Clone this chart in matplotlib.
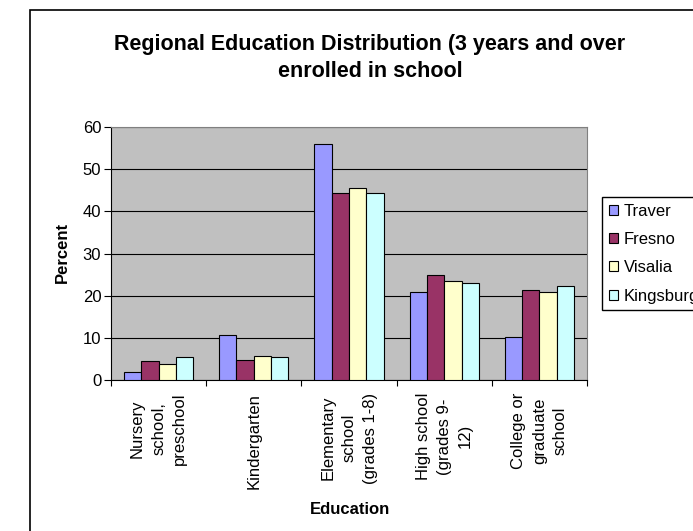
import matplotlib.pyplot as plt
from matplotlib.patches import Rectangle
import numpy as np

plt.rcParams['font.family'] = ['Liberation Sans', 'DejaVu Sans']

categories = ['Nursery\nschool,\npreschool', 'Kindergarten',
              'Elementary\nschool\n(grades 1-8)', 'High school\n(grades 9-\n12)',
              'College or\ngraduate\nschool']
traver = [1.8, 10.7, 56.0, 20.9, 10.2]
fresno = [4.4, 4.7, 44.3, 24.9, 21.3]
visalia = [3.8, 5.7, 45.5, 23.5, 20.9]
kingsburg = [5.4, 5.4, 44.3, 22.9, 22.3]

series = [('Traver', traver, '#9999FF'),
          ('Fresno', fresno, '#993366'),
          ('Visalia', visalia, '#FFFFCC'),
          ('Kingsburg', kingsburg, '#CCFFFF')]

fig = plt.figure(figsize=(6.93, 5.31), dpi=100)
# outer chart border (runs off the right and bottom edges)
fig.patches.append(Rectangle((30 / 693, -0.1), 1.2, 1 - 10 / 531 + 0.1,
                             transform=fig.transFigure, fill=False,
                             edgecolor='black', lw=1.2))

ax = fig.add_axes([111 / 693, 1 - 380 / 531, 476 / 693, 253 / 531])
ax.set_facecolor('#C0C0C0')

x = np.arange(len(categories))
w = 1 / 5.5
for i, (name, vals, col) in enumerate(series):
    ax.bar(x + (i - 1.5) * w, vals, w, color=col, edgecolor='black',
           lw=0.8, label=name, zorder=3)

ax.set_xlim(-0.5, len(categories) - 0.5)
ax.set_ylim(0, 60)
ax.set_yticks(range(0, 61, 10))
ax.yaxis.grid(True, color='black', lw=0.8, zorder=1)
ax.tick_params(axis='y', length=5, width=0.8, pad=2, labelsize=12)

ax.set_xticks(np.arange(-0.5, len(categories), 1))
ax.set_xticklabels([])
ax.tick_params(axis='x', length=4, width=0.8)
for xi, lab in zip(x, categories):
    ax.text(xi, -0.05, lab, transform=ax.get_xaxis_transform(), rotation=90,
            ha='center', va='top', multialignment='center', fontsize=12,
            linespacing=1.5)

for s in ['top', 'right']:
    ax.spines[s].set_color('#808080')
for s in ['left', 'bottom']:
    ax.spines[s].set_color('black')

fig.text(62 / 693, 1 - 252 / 531, 'Percent', rotation=90, ha='center',
         va='center', fontsize=12, fontweight='bold')
fig.text(350 / 693, 1 - 510 / 531, 'Education', ha='center', va='center',
         fontsize=12, fontweight='bold')

fig.text(370 / 693, 1 - 58 / 531,
         'Regional Education Distribution (3 years and over\nenrolled in school',
         ha='center', va='center', fontsize=15.5, fontweight='bold',
         linespacing=1.35)

fig.legend(loc='upper left', bbox_to_anchor=(602 / 693, 1 - 197 / 531),
           fontsize=12, frameon=True, fancybox=False, edgecolor='black',
           framealpha=1, borderpad=0.4, labelspacing=0.8,
           handlelength=0.55, handleheight=0.55, handletextpad=0.35,
           borderaxespad=0)

fig.savefig('out.png', dpi=100)
